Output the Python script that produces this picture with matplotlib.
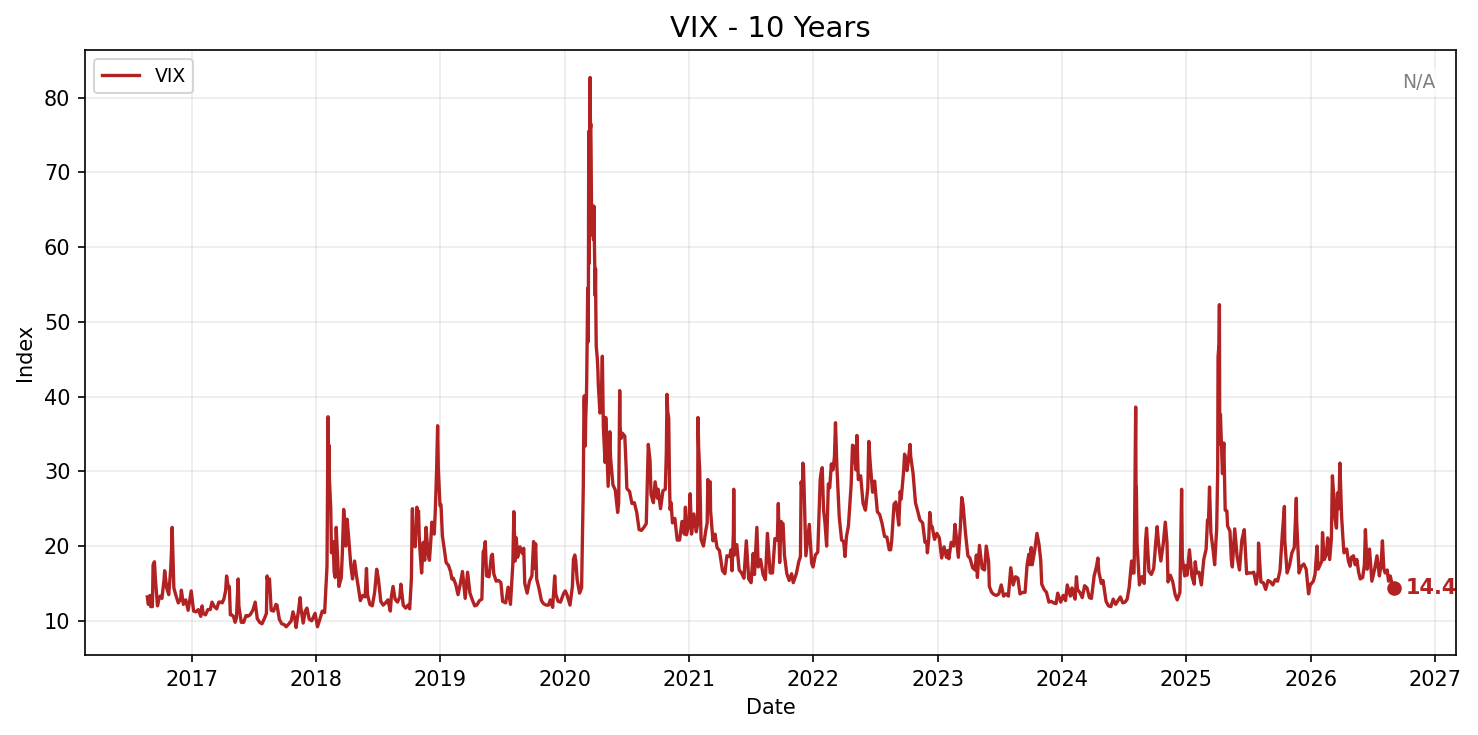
#!/usr/bin/env python

# VIX over the last 10 years

import pandas as pd
import matplotlib
matplotlib.use('Agg')
import matplotlib.pyplot as plt
import matplotlib.dates as mdates

# one line per month
dates = [
    '2016-08-23', '2016-08-26', '2016-08-31',
    '2016-09-02', '2016-09-07', '2016-09-09', '2016-09-13', '2016-09-16', '2016-09-22', '2016-09-27', '2016-09-30',
    '2016-10-05', '2016-10-11', '2016-10-13', '2016-10-19', '2016-10-25', '2016-10-31',
    '2016-11-02', '2016-11-04', '2016-11-09', '2016-11-15', '2016-11-22', '2016-11-29',
    '2016-12-01', '2016-12-07', '2016-12-14', '2016-12-21', '2016-12-30',
    '2017-01-06', '2017-01-13', '2017-01-20', '2017-01-27', '2017-01-31',
    '2017-02-03', '2017-02-10', '2017-02-17', '2017-02-24',
    '2017-03-01', '2017-03-08', '2017-03-15', '2017-03-21', '2017-03-27', '2017-03-31',
    '2017-04-05', '2017-04-10', '2017-04-13', '2017-04-18', '2017-04-21', '2017-04-24', '2017-04-28',
    '2017-05-03', '2017-05-08', '2017-05-12', '2017-05-17', '2017-05-19', '2017-05-26',
    '2017-06-02', '2017-06-09', '2017-06-14', '2017-06-21', '2017-06-29',
    '2017-07-06', '2017-07-12', '2017-07-19', '2017-07-26',
    '2017-08-02', '2017-08-08', '2017-08-10', '2017-08-11', '2017-08-17', '2017-08-22', '2017-08-29',
    '2017-09-05', '2017-09-08', '2017-09-15', '2017-09-22', '2017-09-29',
    '2017-10-05', '2017-10-13', '2017-10-20', '2017-10-25', '2017-10-31',
    '2017-11-03', '2017-11-10', '2017-11-15', '2017-11-17', '2017-11-24', '2017-11-30',
    '2017-12-05', '2017-12-12', '2017-12-19', '2017-12-29',
    '2018-01-05', '2018-01-12', '2018-01-19', '2018-01-26', '2018-01-30',
    '2018-02-02', '2018-02-05', '2018-02-06', '2018-02-08', '2018-02-09', '2018-02-13', '2018-02-15', '2018-02-20', '2018-02-23', '2018-02-26', '2018-02-28',
    '2018-03-01', '2018-03-05', '2018-03-09', '2018-03-16', '2018-03-19', '2018-03-23', '2018-03-27', '2018-03-29',
    '2018-04-02', '2018-04-06', '2018-04-13', '2018-04-18', '2018-04-24', '2018-04-30',
    '2018-05-04', '2018-05-11', '2018-05-18', '2018-05-25', '2018-05-29',
    '2018-06-01', '2018-06-08', '2018-06-15', '2018-06-22', '2018-06-28',
    '2018-07-03', '2018-07-10', '2018-07-17', '2018-07-24', '2018-07-31',
    '2018-08-07', '2018-08-10', '2018-08-15', '2018-08-21', '2018-08-28',
    '2018-09-04', '2018-09-07', '2018-09-14', '2018-09-21', '2018-09-28',
    '2018-10-03', '2018-10-08', '2018-10-10', '2018-10-11', '2018-10-12', '2018-10-18', '2018-10-19', '2018-10-24', '2018-10-26', '2018-10-29', '2018-10-31',
    '2018-11-02', '2018-11-07', '2018-11-12', '2018-11-16', '2018-11-20', '2018-11-26', '2018-11-30',
    '2018-12-04', '2018-12-07', '2018-12-10', '2018-12-14', '2018-12-17', '2018-12-20', '2018-12-21', '2018-12-24', '2018-12-26', '2018-12-31',
    '2019-01-03', '2019-01-07', '2019-01-14', '2019-01-18', '2019-01-25', '2019-01-31',
    '2019-02-04', '2019-02-08', '2019-02-15', '2019-02-22', '2019-02-28',
    '2019-03-07', '2019-03-15', '2019-03-22', '2019-03-29',
    '2019-04-05', '2019-04-12', '2019-04-18', '2019-04-26',
    '2019-05-03', '2019-05-07', '2019-05-09', '2019-05-13', '2019-05-17', '2019-05-24', '2019-05-31',
    '2019-06-03', '2019-06-07', '2019-06-14', '2019-06-21', '2019-06-28',
    '2019-07-03', '2019-07-12', '2019-07-19', '2019-07-26', '2019-07-31',
    '2019-08-02', '2019-08-05', '2019-08-09', '2019-08-12', '2019-08-16', '2019-08-23', '2019-08-30',
    '2019-09-03', '2019-09-06', '2019-09-13', '2019-09-20', '2019-09-27',
    '2019-10-02', '2019-10-04', '2019-10-08', '2019-10-11', '2019-10-18', '2019-10-25', '2019-10-31',
    '2019-11-08', '2019-11-15', '2019-11-20', '2019-11-27',
    '2019-12-03', '2019-12-06', '2019-12-13', '2019-12-20', '2019-12-27', '2019-12-31',
    '2020-01-03', '2020-01-08', '2020-01-15', '2020-01-17', '2020-01-24', '2020-01-27', '2020-01-31',
    '2020-02-03', '2020-02-07', '2020-02-14', '2020-02-20', '2020-02-21', '2020-02-24', '2020-02-25', '2020-02-27', '2020-02-28',
    '2020-03-02', '2020-03-03', '2020-03-05', '2020-03-06', '2020-03-09', '2020-03-10', '2020-03-11', '2020-03-12', '2020-03-13', '2020-03-16',
    '2020-03-17', '2020-03-18', '2020-03-19', '2020-03-20', '2020-03-23', '2020-03-25', '2020-03-26', '2020-03-27', '2020-03-30', '2020-03-31',
    '2020-04-01', '2020-04-02', '2020-04-03', '2020-04-06', '2020-04-08', '2020-04-09', '2020-04-14', '2020-04-17', '2020-04-21', '2020-04-24', '2020-04-29',
    '2020-05-01', '2020-05-08', '2020-05-13', '2020-05-15', '2020-05-22', '2020-05-29',
    '2020-06-05', '2020-06-08', '2020-06-11', '2020-06-12', '2020-06-15', '2020-06-19', '2020-06-26', '2020-06-30',
    '2020-07-02', '2020-07-10', '2020-07-17', '2020-07-24', '2020-07-31',
    '2020-08-07', '2020-08-14', '2020-08-21', '2020-08-28',
    '2020-09-03', '2020-09-08', '2020-09-11', '2020-09-18', '2020-09-23', '2020-09-30',
    '2020-10-02', '2020-10-09', '2020-10-16', '2020-10-23', '2020-10-26', '2020-10-28', '2020-10-30',
    '2020-11-02', '2020-11-04', '2020-11-06', '2020-11-09', '2020-11-13', '2020-11-20', '2020-11-27',
    '2020-12-04', '2020-12-11', '2020-12-18', '2020-12-21', '2020-12-24', '2020-12-31',
    '2021-01-04', '2021-01-08', '2021-01-15', '2021-01-22', '2021-01-26', '2021-01-27', '2021-01-29',
    '2021-02-01', '2021-02-05', '2021-02-12', '2021-02-19', '2021-02-23', '2021-02-25', '2021-02-26',
    '2021-03-04', '2021-03-05', '2021-03-12', '2021-03-18', '2021-03-24', '2021-03-31',
    '2021-04-05', '2021-04-09', '2021-04-16', '2021-04-22', '2021-04-30',
    '2021-05-04', '2021-05-07', '2021-05-11', '2021-05-12', '2021-05-14', '2021-05-21', '2021-05-28',
    '2021-06-04', '2021-06-11', '2021-06-18', '2021-06-25',
    '2021-07-02', '2021-07-08', '2021-07-12', '2021-07-19', '2021-07-23', '2021-07-30',
    '2021-08-06', '2021-08-13', '2021-08-19', '2021-08-27',
    '2021-09-03', '2021-09-10', '2021-09-17', '2021-09-20', '2021-09-24', '2021-09-28', '2021-09-30',
    '2021-10-04', '2021-10-08', '2021-10-15', '2021-10-22', '2021-10-29',
    '2021-11-03', '2021-11-12', '2021-11-19', '2021-11-24', '2021-11-26', '2021-11-30',
    '2021-12-01', '2021-12-03', '2021-12-10', '2021-12-17', '2021-12-20', '2021-12-27', '2021-12-31',
    '2022-01-07', '2022-01-14', '2022-01-21', '2022-01-24', '2022-01-27', '2022-01-31',
    '2022-02-04', '2022-02-09', '2022-02-14', '2022-02-18', '2022-02-23', '2022-02-24', '2022-02-28',
    '2022-03-04', '2022-03-07', '2022-03-11', '2022-03-18', '2022-03-25', '2022-03-31',
    '2022-04-04', '2022-04-08', '2022-04-14', '2022-04-22', '2022-04-26', '2022-04-29',
    '2022-05-02', '2022-05-06', '2022-05-09', '2022-05-13', '2022-05-20', '2022-05-27',
    '2022-06-03', '2022-06-10', '2022-06-13', '2022-06-17', '2022-06-24', '2022-06-30',
    '2022-07-08', '2022-07-15', '2022-07-22', '2022-07-29',
    '2022-08-05', '2022-08-12', '2022-08-16', '2022-08-19', '2022-08-26', '2022-08-31',
    '2022-09-02', '2022-09-09', '2022-09-13', '2022-09-16', '2022-09-23', '2022-09-26', '2022-09-30',
    '2022-10-03', '2022-10-07', '2022-10-12', '2022-10-14', '2022-10-21', '2022-10-28',
    '2022-11-04', '2022-11-10', '2022-11-18', '2022-11-25', '2022-11-30',
    '2022-12-02', '2022-12-06', '2022-12-09', '2022-12-13', '2022-12-16', '2022-12-23', '2022-12-30',
    '2023-01-06', '2023-01-13', '2023-01-20', '2023-01-27', '2023-01-31',
    '2023-02-03', '2023-02-10', '2023-02-17', '2023-02-21', '2023-02-24',
    '2023-03-03', '2023-03-09', '2023-03-13', '2023-03-17', '2023-03-24', '2023-03-31',
    '2023-04-06', '2023-04-14', '2023-04-21', '2023-04-25', '2023-04-28',
    '2023-05-04', '2023-05-12', '2023-05-19', '2023-05-24', '2023-05-31',
    '2023-06-02', '2023-06-09', '2023-06-16', '2023-06-23', '2023-06-30',
    '2023-07-07', '2023-07-14', '2023-07-21', '2023-07-28',
    '2023-08-02', '2023-08-04', '2023-08-11', '2023-08-18', '2023-08-25', '2023-08-31',
    '2023-09-08', '2023-09-15', '2023-09-21', '2023-09-26', '2023-09-29',
    '2023-10-03', '2023-10-06', '2023-10-13', '2023-10-20', '2023-10-26', '2023-10-31',
    '2023-11-03', '2023-11-10', '2023-11-17', '2023-11-24',
    '2023-12-01', '2023-12-08', '2023-12-15', '2023-12-20', '2023-12-29',
    '2024-01-05', '2024-01-12', '2024-01-17', '2024-01-26', '2024-01-31',
    '2024-02-02', '2024-02-09', '2024-02-13', '2024-02-16', '2024-02-23',
    '2024-03-01', '2024-03-08', '2024-03-15', '2024-03-22', '2024-03-28',
    '2024-04-05', '2024-04-12', '2024-04-16', '2024-04-19', '2024-04-26',
    '2024-05-01', '2024-05-10', '2024-05-17', '2024-05-24', '2024-05-31',
    '2024-06-07', '2024-06-14', '2024-06-21', '2024-06-28',
    '2024-07-05', '2024-07-11', '2024-07-17', '2024-07-24', '2024-07-26', '2024-07-31',
    '2024-08-01', '2024-08-02', '2024-08-05', '2024-08-06', '2024-08-07', '2024-08-09', '2024-08-16', '2024-08-23', '2024-08-30',
    '2024-09-03', '2024-09-06', '2024-09-13', '2024-09-20', '2024-09-27',
    '2024-10-03', '2024-10-07', '2024-10-11', '2024-10-18', '2024-10-25', '2024-10-31',
    '2024-11-05', '2024-11-08', '2024-11-15', '2024-11-22', '2024-11-29',
    '2024-12-05', '2024-12-13', '2024-12-18', '2024-12-20', '2024-12-27', '2024-12-31',
    '2025-01-03', '2025-01-10', '2025-01-17', '2025-01-24', '2025-01-27', '2025-01-31',
    '2025-02-07', '2025-02-14', '2025-02-21', '2025-02-28',
    '2025-03-04', '2025-03-07', '2025-03-10', '2025-03-14', '2025-03-21', '2025-03-25', '2025-03-31',
    '2025-04-03', '2025-04-04', '2025-04-07', '2025-04-08', '2025-04-09', '2025-04-11', '2025-04-17', '2025-04-21', '2025-04-25', '2025-04-30',
    '2025-05-02', '2025-05-09', '2025-05-13', '2025-05-16', '2025-05-23', '2025-05-30',
    '2025-06-06', '2025-06-13', '2025-06-20', '2025-06-27',
    '2025-07-03', '2025-07-11', '2025-07-18', '2025-07-25', '2025-07-31',
    '2025-08-01', '2025-08-08', '2025-08-15', '2025-08-22', '2025-08-29',
    '2025-09-05', '2025-09-12', '2025-09-19', '2025-09-26',
    '2025-10-03', '2025-10-10', '2025-10-16', '2025-10-17', '2025-10-24', '2025-10-31',
    '2025-11-07', '2025-11-14', '2025-11-20', '2025-11-21', '2025-11-28',
    '2025-12-05', '2025-12-12', '2025-12-19', '2025-12-26', '2025-12-31',
    '2026-01-02', '2026-01-09', '2026-01-14', '2026-01-20', '2026-01-23', '2026-01-29',
    '2026-02-03', '2026-02-05', '2026-02-10', '2026-02-17', '2026-02-20', '2026-02-26',
    '2026-03-03', '2026-03-06', '2026-03-10', '2026-03-13', '2026-03-18', '2026-03-21', '2026-03-25', '2026-03-28',
    '2026-04-02', '2026-04-06', '2026-04-09', '2026-04-17', '2026-04-22', '2026-04-27',
    '2026-05-01', '2026-05-07', '2026-05-12', '2026-05-17', '2026-05-22', '2026-05-27',
    '2026-06-03', '2026-06-08', '2026-06-11', '2026-06-16', '2026-06-23', '2026-06-30',
    '2026-07-08', '2026-07-15', '2026-07-22', '2026-07-27', '2026-07-31',
    '2026-08-04', '2026-08-08', '2026-08-14', '2026-08-18', '2026-08-23', '2026-08-28',
    '2026-09-02',
]

vix = [
    13.2, 12.2, 13.4,
    11.9, 11.9, 17.5, 17.9, 15.4, 12.0, 13.1, 13.3,
    13.0, 15.4, 16.7, 14.4, 13.5, 17.1,
    19.3, 22.5, 14.4, 13.4, 12.4, 12.9,
    14.1, 12.2, 12.8, 11.4, 14.0,
    11.3, 11.2, 11.5, 10.6, 12.0,
    11.0, 10.8, 11.5, 11.5,
    12.5, 11.9, 11.6, 12.5, 12.5, 12.4,
    12.9, 14.0, 16.0, 14.4, 14.6, 10.8, 10.8,
    10.6, 9.8, 10.4, 15.6, 12.0, 9.8,
    9.8, 10.7, 10.6, 10.8, 11.4,
    12.5, 10.3, 9.8, 9.6,
    10.3, 11.0, 16.0, 15.5, 15.6, 11.4, 11.3,
    12.2, 12.1, 10.2, 9.6, 9.5,
    9.2, 9.6, 10.0, 11.2, 10.2,
    9.1, 11.3, 13.1, 11.8, 9.7, 11.3,
    11.7, 10.2, 10.0, 11.0,
    9.2, 10.2, 11.3, 11.1, 14.8,
    17.3, 37.3, 30.0, 33.5, 29.1, 25.0, 19.1, 20.6, 16.5, 15.8, 19.9,
    22.5, 18.7, 14.6, 15.8, 19.0, 24.9, 22.5, 20.0,
    23.6, 21.5, 17.4, 15.6, 18.0, 15.9,
    14.8, 12.7, 13.4, 13.2, 17.0,
    13.5, 12.2, 12.0, 13.8, 16.9,
    15.6, 12.6, 12.1, 12.4, 12.8,
    11.3, 13.2, 14.6, 12.9, 12.5,
    13.2, 14.9, 12.1, 11.7, 12.1,
    11.6, 15.7, 23.0, 25.0, 21.3, 20.1, 19.9, 25.2, 24.2, 24.7, 21.2,
    19.5, 16.4, 20.5, 18.1, 22.5, 18.9, 18.1,
    20.7, 23.2, 22.6, 21.6, 24.5, 28.4, 30.1, 36.1, 30.4, 25.4,
    25.5, 21.4, 19.1, 17.8, 17.4, 16.6,
    15.6, 15.7, 14.9, 13.5, 14.8,
    16.6, 13.0, 16.5, 13.7,
    12.8, 12.0, 12.1, 12.7,
    12.9, 19.3, 19.1, 20.6, 16.0, 15.9, 18.7,
    18.9, 16.3, 15.3, 15.4, 15.1,
    12.6, 12.4, 14.5, 12.2, 16.1,
    17.6, 24.6, 18.0, 21.1, 18.5, 19.9, 19.0,
    19.7, 15.0, 13.7, 15.3, 16.0,
    20.6, 17.0, 20.3, 15.6, 14.3, 12.7, 12.3,
    12.1, 12.1, 12.8, 11.8,
    16.0, 13.6, 12.6, 12.5, 13.4, 13.8,
    14.0, 13.5, 12.4, 12.1, 14.6, 18.2, 18.8,
    18.0, 15.5, 13.7, 14.4, 17.1, 25.0, 27.9, 39.2, 40.1,
    33.4, 36.8, 39.6, 41.9, 54.5, 47.3, 53.9, 75.5, 57.8, 82.7,
    75.9, 76.5, 72.0, 66.0, 61.6, 64.0, 61.0, 65.5, 57.1, 53.5,
    57.1, 50.9, 46.8, 45.2, 43.4, 41.7, 37.8, 38.2, 45.4, 35.9, 31.2,
    37.2, 28.0, 35.3, 31.9, 28.2, 27.5,
    24.5, 25.8, 40.8, 36.1, 34.4, 35.1, 34.7, 30.4,
    27.7, 27.3, 25.7, 25.8, 24.5,
    22.2, 22.1, 22.5, 23.0,
    33.6, 31.5, 26.9, 25.8, 28.6, 26.4,
    27.6, 25.0, 27.4, 27.6, 32.5, 40.3, 38.0,
    37.1, 29.6, 24.9, 25.8, 23.1, 23.7, 20.8,
    20.8, 23.3, 21.6, 25.2, 21.5, 22.8,
    27.0, 21.6, 24.3, 21.9, 23.0, 37.2, 33.1,
    30.2, 20.9, 20.0, 22.1, 23.1, 28.9, 28.0,
    28.6, 24.7, 20.7, 21.6, 19.8, 19.4,
    17.9, 16.7, 16.3, 18.7, 18.6,
    19.5, 16.7, 21.8, 27.6, 18.8, 20.2, 16.8,
    16.4, 15.7, 20.7, 15.6,
    15.1, 19.0, 16.2, 22.5, 17.2, 18.2,
    16.2, 15.5, 21.7, 16.4,
    16.4, 21.0, 20.8, 25.7, 17.8, 23.3, 23.1,
    23.0, 18.8, 16.3, 15.4, 16.3,
    15.1, 16.3, 17.9, 18.6, 28.6, 27.2,
    31.1, 30.7, 18.7, 21.6, 22.9, 17.7, 17.2,
    18.8, 19.2, 28.9, 29.9, 30.5, 24.8,
    23.2, 20.0, 28.3, 27.8, 31.0, 30.3, 30.2,
    32.0, 36.5, 30.8, 23.9, 20.8, 20.6,
    18.6, 21.2, 22.7, 28.2, 33.5, 33.4,
    32.3, 30.2, 34.8, 28.9, 29.4, 25.7,
    24.8, 27.8, 34.0, 31.1, 27.2, 28.7,
    24.6, 24.2, 23.0, 21.3,
    21.2, 19.5, 19.5, 20.6, 25.6, 25.9,
    25.5, 22.8, 27.3, 26.3, 29.9, 32.3, 31.6,
    30.1, 31.4, 33.6, 32.0, 29.7, 25.8,
    24.6, 23.5, 23.1, 20.5, 20.6,
    19.1, 21.0, 24.5, 22.6, 22.6, 20.9, 21.7,
    21.1, 18.4, 19.9, 18.5, 19.4,
    18.3, 20.5, 20.0, 22.9, 21.7,
    18.5, 22.6, 26.5, 25.5, 21.7, 18.7,
    18.4, 17.1, 16.8, 18.8, 15.8,
    20.1, 17.0, 16.8, 20.0, 17.9,
    14.6, 13.8, 13.5, 13.4, 13.6,
    14.8, 13.3, 13.6, 13.3,
    16.1, 17.1, 14.8, 15.9, 15.7, 13.6,
    13.8, 13.8, 17.5, 18.9, 17.5,
    19.8, 17.5, 19.3, 21.7, 20.2, 18.1,
    14.9, 14.2, 13.8, 12.5,
    12.6, 12.4, 12.3, 13.7, 12.5,
    13.4, 12.7, 14.8, 13.3, 14.4,
    13.9, 12.9, 15.9, 14.2, 13.8,
    13.1, 14.7, 14.4, 13.1, 13.0,
    16.0, 17.3, 18.4, 16.5, 15.0,
    15.4, 12.6, 12.0, 11.9, 12.9,
    12.2, 12.7, 13.2, 12.4,
    12.5, 12.9, 14.5, 18.0, 16.4, 16.4,
    18.6, 23.4, 38.6, 27.7, 27.9, 20.4, 14.8, 15.9, 15.0,
    20.7, 22.4, 16.6, 16.2, 17.0,
    20.5, 22.6, 20.5, 18.0, 20.3, 23.2,
    20.5, 15.2, 16.1, 15.2, 13.5,
    12.8, 13.8, 27.6, 18.4, 16.0, 17.4,
    16.1, 19.5, 16.0, 14.9, 17.9, 16.4,
    16.5, 14.8, 18.2, 19.6,
    23.5, 23.4, 27.9, 21.8, 19.3, 17.5, 22.3,
    30.0, 45.3, 47.0, 52.3, 33.6, 37.6, 29.7, 33.8, 24.8, 24.7,
    22.7, 22.0, 18.2, 17.2, 22.3, 18.6,
    16.8, 20.8, 22.2, 16.3,
    16.4, 16.4, 16.5, 14.9, 16.7,
    20.4, 15.2, 15.1, 14.2, 15.4,
    15.2, 14.8, 15.5, 15.3,
    16.7, 21.7, 25.3, 20.8, 16.4, 17.4,
    19.1, 19.8, 26.4, 23.4, 16.4,
    17.3, 17.6, 16.9, 13.6, 14.9,
    14.9, 15.3, 16.2, 20.0, 16.9, 17.5,
    18.0, 21.8, 18.2, 19.0, 21.1, 18.2,
    21.0, 29.4, 26.7, 24.0, 22.4, 27.1, 25.0, 31.1,
    24.0, 21.0, 19.1, 19.6, 18.0, 17.3,
    18.5, 18.7, 17.5, 18.2, 16.5, 15.6,
    15.8, 17.5, 22.2, 16.9, 19.6, 15.3,
    16.9, 18.7, 16.0, 17.5, 20.7,
    17.0, 16.4, 16.8, 15.3, 16.0, 15.0,
    14.4,
]

line_color = 'firebrick'

x = pd.to_datetime(dates)

fig, ax = plt.subplots(figsize=(1478 / 150, 735 / 150), dpi=150)
fig.subplots_adjust(left=0.0575, right=0.9851, top=0.932, bottom=0.1088)

ax.plot(x, vix, color=line_color, linewidth=1.6, label='VIX')

# mark and label the latest value
ax.plot(x[-1], vix[-1], 'o', color=line_color, markersize=6)
ax.annotate(f'{vix[-1]:.1f}', (x[-1], vix[-1]), xytext=(6, 0),
            textcoords='offset points', ha='left', va='center',
            color=line_color, fontweight='bold', fontsize=10,
            annotation_clip=False, zorder=2)

ax.text(0.985, 0.962, 'N/A', transform=ax.transAxes, ha='right', va='top',
        color='gray', fontsize=9,
        bbox=dict(facecolor='white', edgecolor='none', alpha=0.7, pad=2))

ax.set_title('VIX - 10 Years', fontsize=14)
ax.set_xlabel('Date')
ax.set_ylabel('Index')
ax.grid(True, alpha=0.25)
ax.legend(loc='upper left', fontsize=9)
ax.xaxis.set_major_locator(mdates.YearLocator())
ax.xaxis.set_major_formatter(mdates.DateFormatter('%Y'))

fig.savefig('out.png', dpi=150)
